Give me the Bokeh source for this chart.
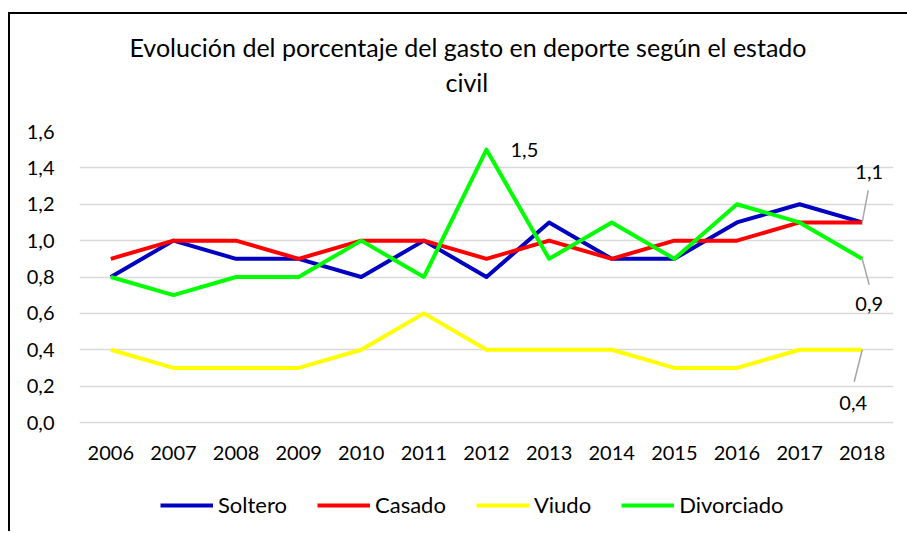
from bokeh.plotting import figure
from bokeh.models import (Range1d, FixedTicker, CustomJSTickFormatter, Legend, LegendItem,
                          Label, Title)
from bokeh.embed import file_html
from bokeh.resources import INLINE

years = [2006, 2007, 2008, 2009, 2010, 2011, 2012, 2013, 2014, 2015, 2016, 2017, 2018]
soltero = [0.8, 1.0, 0.9, 0.9, 0.8, 1.0, 0.8, 1.1, 0.9, 0.9, 1.1, 1.2, 1.1]
casado = [0.9, 1.0, 1.0, 0.9, 1.0, 1.0, 0.9, 1.0, 0.9, 1.0, 1.0, 1.1, 1.1]
viudo = [0.4, 0.3, 0.3, 0.3, 0.4, 0.6, 0.4, 0.4, 0.4, 0.3, 0.3, 0.4, 0.4]
divorciado = [0.8, 0.7, 0.8, 0.8, 1.0, 0.8, 1.5, 0.9, 1.1, 0.9, 1.2, 1.1, 0.9]
series_names = ["Soltero", "Casado", "Viudo", "Divorciado"]
series_colors = ["#0000c0", "#ff0000", "#ffff00", "#00ff00"]
y_ticks = [0.0, 0.2, 0.4, 0.6, 0.8, 1.0, 1.2, 1.4, 1.6]
title_lines = ["Evolución del porcentaje del gasto en deporte según el estado", "civil"]

FONT = "Lato"
Y_MAX = 1.6
PLOT_H = 291      # pixel height of the 0..1.6 value band
FRAME_H = 400     # frame extends below zero to hold the x labels and the legend
y_min = Y_MAX - Y_MAX * FRAME_H / PLOT_H

p = figure(frame_width=814, frame_height=FRAME_H, output_backend="svg", toolbar_location=None,
           x_range=Range1d(2005.5, 2018.5), y_range=Range1d(y_min, Y_MAX),
           min_border_left=69, min_border_right=14, min_border_top=117, min_border_bottom=0)
p.styles = {"border-left": "2px solid #000000", "border-top": "2px solid #000000",
            "margin-top": "12px", "margin-left": "8px"}
p.outline_line_color = None
p.background_fill_color = "white"
p.border_fill_color = "white"

p.xgrid.grid_line_color = None
p.ygrid.grid_line_color = "#d9d9d9"
p.ygrid.grid_line_width = 1.5

p.xaxis.ticker = FixedTicker(ticks=years)
p.xaxis.fixed_location = 0
p.yaxis.ticker = FixedTicker(ticks=y_ticks)
p.yaxis.formatter = CustomJSTickFormatter(code="return tick.toFixed(1).replace('.', ',');")
for ax in (p.xaxis[0], p.yaxis[0]):
    ax.axis_line_color = None
    ax.major_tick_line_color = None
    ax.minor_tick_line_color = None
    ax.major_label_text_font = FONT
    ax.major_label_text_font_size = "20px"
    ax.major_label_text_color = "#000000"
p.yaxis.major_label_standoff = 19
p.xaxis.major_label_standoff = 17

all_series = [soltero, casado, viudo, divorciado]
items = []
for name, vals, col in zip(series_names, all_series, series_colors):
    r = p.line(years, vals, line_color=col, line_width=4, line_join="round")
    items.append(LegendItem(label=name, renderers=[r]))

legend = Legend(items=items, orientation="horizontal", location=(81, 13),
                glyph_width=53, glyph_height=20, label_standoff=5, spacing=30,
                padding=0, margin=0, border_line_color=None, background_fill_alpha=0,
                label_text_font=FONT, label_text_font_size="22px", label_height=20,
                label_text_color="#000000")
p.add_layout(legend, "center")

def fmt(v):
    return f"{v:.1f}".replace(".", ",")

# data labels
i12 = years.index(2012)
p.add_layout(Label(x=years[i12], y=divorciado[i12], text=fmt(divorciado[i12]),
                   x_offset=24, text_baseline="middle", text_font=FONT,
                   text_font_size="20px", text_color="#000000"))
last = len(years) - 1
lab_specs = [(casado[last], 7, 50), (divorciado[last], 7, -45), (viudo[last], -9, -53)]
for v, dx, dy in lab_specs:
    p.add_layout(Label(x=years[last], y=v, text=fmt(v), x_offset=dx, y_offset=dy,
                       text_align="center", text_baseline="middle", text_font=FONT,
                       text_font_size="20px", text_color="#000000"))
px_x = 13 / 814
px_y = Y_MAX / PLOT_H
lead_x0 = [years[last]] * 3
lead_y0 = [casado[last], divorciado[last], viudo[last]]
lead_x1 = [years[last] + 6 * px_x, years[last] + 7 * px_x, years[last] - 8 * px_x]
lead_y1 = [casado[last] + 32 * px_y, divorciado[last] - 26 * px_y, viudo[last] - 32 * px_y]
p.segment(lead_x0, lead_y0, lead_x1, lead_y1, line_color="#a6a6a6", line_width=1.5)

# title: spacer closest to the frame, then the two lines
p.add_layout(Title(text=" ", text_font_size="26px", standoff=0), "above")
p.add_layout(Title(text=title_lines[1], align="left", offset=366, standoff=6,
                   text_font=FONT, text_font_size="25px", text_font_style="normal",
                   text_color="#000000"), "above")
p.add_layout(Title(text=title_lines[0], align="left", offset=50, standoff=0,
                   text_font=FONT, text_font_size="25px", text_font_style="normal",
                   text_color="#000000"), "above")

open("out.html", "w").write(file_html(p, INLINE))
